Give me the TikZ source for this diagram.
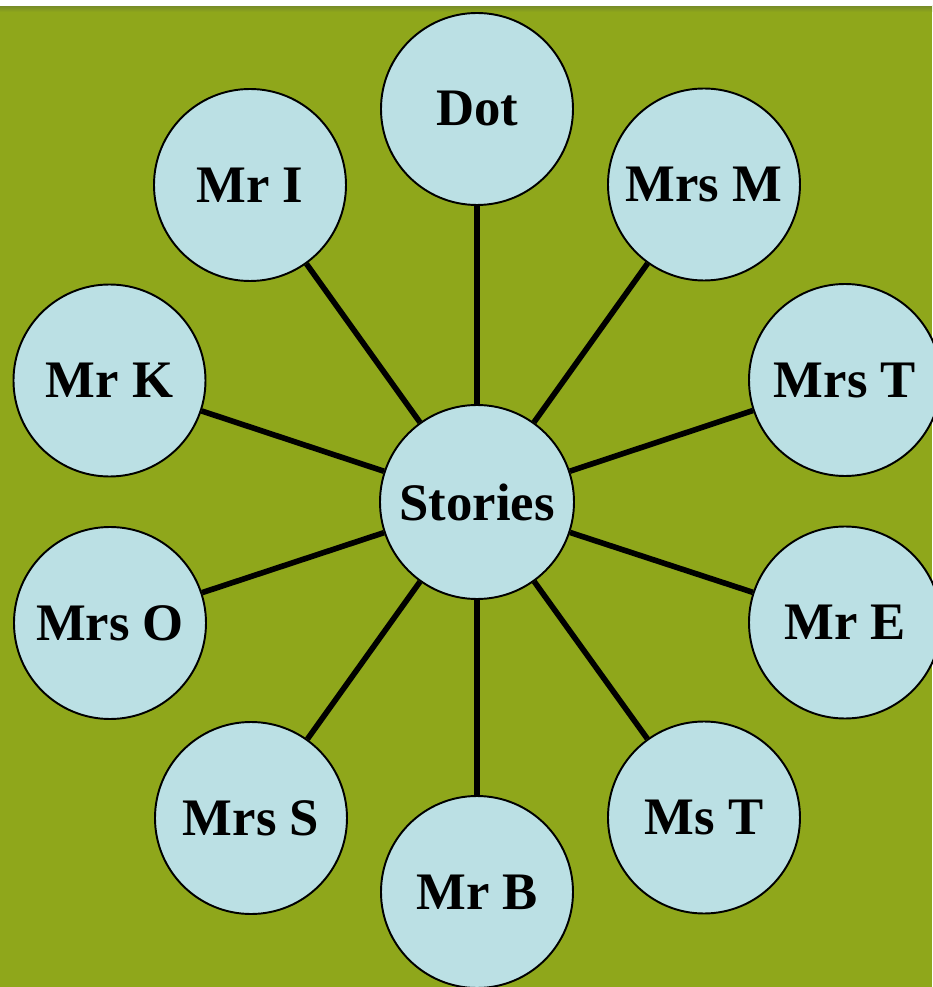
\documentclass[tikz,border=0pt]{standalone}
\usepackage{fontspec}
\setmainfont{Liberation Serif}
\usetikzlibrary{positioning}
\definecolor{bggreen}{RGB}{143,167,27}
\definecolor{bgdark}{RGB}{120,140,40}
\definecolor{bubble}{RGB}{187,224,228}
\tikzset{
  namecircle/.style={circle,draw,line width=1.1pt,fill=bubble,minimum size=3.84cm,inner sep=1pt,
    font=\bfseries\fontsize{30}{34}\selectfont},
  hubcircle/.style={namecircle,minimum size=3.88cm},
  every edge/.style={draw,line width=3.2pt},
}
\begin{document}
\begin{tikzpicture}

% background
\useasboundingbox (-9.54,-9.70) rectangle (9.10,10.04);
\fill[bggreen] (-9.54,-9.70) rectangle (9.10,9.92);
\shade[top color=bgdark,bottom color=bggreen] (-9.54,9.80) rectangle (9.10,9.92);
\fill[white] (-9.54,9.92) rectangle (9.10,10.04);

\node[hubcircle] (stories) at (0,0) {Stories};
\node[namecircle] (dot) at (0,7.86) {Dot};
\node[namecircle] (mrsm) at (4.54,6.35) {Mrs M};
\node[namecircle] (mrst) at (7.36,2.44) {Mrs T};
\node[namecircle] (mre) at (7.36,-2.41) {Mr E};
\node[namecircle] (mst) at (4.54,-6.31) {Ms T};
\node[namecircle] (mrb) at (0,-7.80) {Mr B};
\node[namecircle] (mrss) at (-4.52,-6.32) {Mrs S};
\node[namecircle] (mrso) at (-7.34,-2.42) {Mrs O};
\node[namecircle] (mrk) at (-7.35,2.43) {Mr K};
\node[namecircle] (mri) at (-4.54,6.34) {Mr I};

\path
(stories) edge (dot)
(stories) edge (mrsm)
(stories) edge (mrst)
(stories) edge (mre)
(stories) edge (mst)
(stories) edge (mrb)
(stories) edge (mrss)
(stories) edge (mrso)
(stories) edge (mrk)
(stories) edge (mri);

\end{tikzpicture}
\end{document}
